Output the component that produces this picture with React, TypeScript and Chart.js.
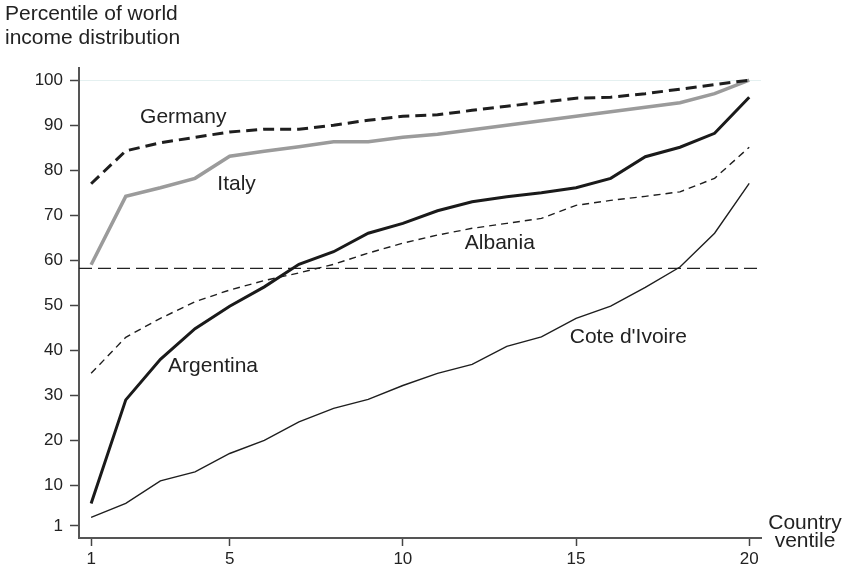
import { useEffect, useRef } from "react";
import { Chart, registerables } from "chart.js";

Chart.register(...registerables);

const VENTILES = [1, 2, 3, 4, 5, 6, 7, 8, 9, 10, 11, 12, 13, 14, 15, 16, 17, 18, 19, 20];
const GERMANY = [77, 84.3, 86.1, 87.3, 88.5, 89.1, 89.1, 90, 91.1, 92, 92.3, 93.3, 94.2, 95.1, 96, 96.2, 97, 98, 99, 100];
const ITALY = [59, 74.2, 76.1, 78.2, 83.1, 84.2, 85.2, 86.3, 86.3, 87.3, 88, 89, 90, 91, 92, 93, 94, 95, 97, 100];
const ARGENTINA = [6, 29, 38, 44.8, 49.8, 54.1, 59.1, 61.9, 66, 68.2, 71, 73, 74.1, 75, 76.1, 78.2, 83, 85.1, 88.2, 96.2];
const ALBANIA = [34.9, 42.9, 47.1, 50.8, 53.4, 55.5, 57.2, 59.1, 61.6, 63.8, 65.6, 67.1, 68.2, 69.3, 72.2, 73.3, 74.2, 75.2, 78.2, 85.1];
const COTE_DIVOIRE = [2.9, 6, 11, 13, 17.1, 20, 24.1, 27.1, 29.1, 32.2, 34.9, 36.9, 40.9, 43, 47.1, 49.8, 54, 58.5, 66, 77.1];
const REFERENCE_LEVEL = 58.2;

const X_TICKS = [1, 5, 10, 15, 20];
const Y_TICKS = [1, 10, 20, 30, 40, 50, 60, 70, 80, 90, 100];
const X_MIN = 0.65;
const X_MAX = 20.34;
const Y_MIN = -1.67;
const Y_MAX = 102.7;

const SERIES_LABELS = [
  { text: "Germany", x: 3.66, y: 90.4 },
  { text: "Italy", x: 5.2, y: 75.7 },
  { text: "Albania", x: 12.8, y: 62.4 },
  { text: "Argentina", x: 4.52, y: 35.2 },
  { text: "Cote d'Ivoire", x: 16.51, y: 41.65 },
];
const Y_TITLE = ["Percentile of world", "income distribution"];
const X_TITLE = ["Country", "ventile"];

const FONT = "'Liberation Sans', Arial, Helvetica, sans-serif";
const TEXT_COLOR = "#222222";

const toPoints = (vals: number[]) => VENTILES.map((v, i) => ({ x: v, y: vals[i] }));

const textPlugin = {
  id: "texts",
  afterDraw(chart: any) {
    const ctx = chart.ctx;
    const xs = chart.scales.x;
    const ys = chart.scales.y;
    ctx.save();
    ctx.fillStyle = TEXT_COLOR;
    ctx.font = `21px ${FONT}`;
    ctx.textBaseline = "alphabetic";
    ctx.textAlign = "center";
    for (const l of SERIES_LABELS) {
      ctx.fillText(l.text, xs.getPixelForValue(l.x), ys.getPixelForValue(l.y));
    }
    ctx.textAlign = "left";
    ctx.fillText(Y_TITLE[0], 5, 20);
    ctx.fillText(Y_TITLE[1], 5, 43.5);
    ctx.textAlign = "center";
    ctx.fillText(X_TITLE[0], 805, 529);
    ctx.fillText(X_TITLE[1], 805, 547);
    ctx.restore();
  },
};

export default function App() {
  const ref = useRef<HTMLCanvasElement | null>(null);
  useEffect(() => {
    if (!ref.current) return;
    const chart = new Chart(ref.current, {
      type: "line",
      data: {
        datasets: [
          {
            label: "Germany",
            data: toPoints(GERMANY),
            borderColor: "#1e1e1e",
            borderWidth: 3,
            borderDash: [11, 6],
            pointRadius: 0,
            tension: 0,
          },
          {
            label: "Italy",
            data: toPoints(ITALY),
            borderColor: "#9b9b9b",
            borderWidth: 3.5,
            pointRadius: 0,
            tension: 0,
          },
          {
            label: "Argentina",
            data: toPoints(ARGENTINA),
            borderColor: "#1a1a1a",
            borderWidth: 3,
            pointRadius: 0,
            tension: 0,
          },
          {
            label: "Albania",
            data: toPoints(ALBANIA),
            borderColor: "#1e1e1e",
            borderWidth: 1.4,
            borderDash: [7, 5],
            pointRadius: 0,
            tension: 0,
          },
          {
            label: "Cote d'Ivoire",
            data: toPoints(COTE_DIVOIRE),
            borderColor: "#1e1e1e",
            borderWidth: 1.4,
            pointRadius: 0,
            tension: 0,
          },
          {
            label: "Reference",
            data: [
              { x: X_MIN, y: REFERENCE_LEVEL },
              { x: X_MAX, y: REFERENCE_LEVEL },
            ],
            borderColor: "#222222",
            borderWidth: 1.2,
            borderDash: [13, 6],
            pointRadius: 0,
          },
        ],
      },
      options: {
        animation: false,
        responsive: true,
        maintainAspectRatio: false,
        layout: { padding: { left: 0, top: 68, right: 85, bottom: 0 } },
        plugins: {
          legend: { display: false },
          tooltip: { enabled: false },
        },
        scales: {
          x: {
            type: "linear",
            min: X_MIN,
            max: X_MAX,
            afterBuildTicks: (s: any) => {
              s.ticks = X_TICKS.map((v) => ({ value: v }));
            },
            afterFit: (s: any) => {
              s.height = 36;
            },
            border: { display: true, color: "#555555", width: 2 },
            grid: {
              drawOnChartArea: false,
              drawTicks: true,
              tickLength: 8,
              tickColor: "#444444",
              tickWidth: 1.5,
            },
            ticks: {
              padding: 3,
              color: TEXT_COLOR,
              font: { family: FONT, size: 17 },
              maxRotation: 0,
              autoSkip: false,
              callback: (v: any) => String(v),
            },
          },
          y: {
            type: "linear",
            min: Y_MIN,
            max: Y_MAX,
            afterBuildTicks: (s: any) => {
              s.ticks = Y_TICKS.map((v) => ({ value: v }));
            },
            afterFit: (s: any) => {
              s.width = 79;
            },
            border: { display: true, color: "#555555", width: 2 },
            grid: {
              drawOnChartArea: true,
              color: (c: any) => (c.tick && c.tick.value === 100 ? "#e4f0f0" : "rgba(0,0,0,0)"),
              drawTicks: true,
              tickLength: 9,
              tickColor: "#444444",
              tickWidth: 1.5,
            },
            ticks: {
              padding: 7,
              color: TEXT_COLOR,
              font: { family: FONT, size: 17 },
              autoSkip: false,
              callback: (v: any) => String(v),
            },
          },
        },
      },
      plugins: [textPlugin],
    });
    return () => chart.destroy();
  }, []);
  return (
    <div style={{ position: "absolute", left: 0, top: 0, width: 846, height: 574, background: "#ffffff" }}>
      <canvas ref={ref} />
    </div>
  );
}
